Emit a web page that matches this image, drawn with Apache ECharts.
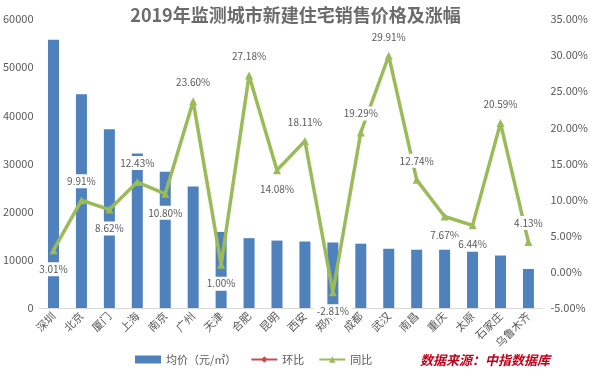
<!DOCTYPE html>
<html><head><meta charset="utf-8">
<script src="https://cdn.jsdelivr.net/npm/echarts@6/dist/echarts.min.js"></script>
<style>html,body{margin:0;padding:0;background:#fff}#c{width:591px;height:376px}</style>
</head><body><div id="c"></div>
<script>
const cities = ['深圳','北京','厦门','上海','南京','广州','天津','合肥','昆明','西安','郑州','成都','武汉','南昌','重庆','太原','石家庄','乌鲁木齐'];
const avgPrice = [55700,44400,37100,32100,28300,25200,15800,14500,14000,13800,13600,13350,12300,12100,12100,11700,10900,8100];
const yoy = [3.01,9.91,8.62,12.43,10.80,23.60,1.00,27.18,14.08,18.11,-2.81,19.29,29.91,12.74,7.67,6.44,20.59,4.13];
const mom = [];
const leftTicks = [0,10000,20000,30000,40000,50000,60000];
const rightTicks = [-5,0,5,10,15,20,25,30,35];

const labelPlace = ['bottom','top','bottom','top','bottom','top','bottom','top','bottom','top','bottom','top','top','top','bottom','bottom','top','top'];

const FONT = '"Noto Sans CJK SC", "Noto Sans", sans-serif';
const chart = echarts.init(document.getElementById('c'));
chart.setOption({
  animation: false,
  textStyle: {fontFamily: FONT},
  title: {text: '2019年监测城市新建住宅销售价格及涨幅', left: 'center', top: 1,
    textStyle: {fontSize: 18, fontWeight: 'bold', color: '#6b6b6b', fontFamily: FONT}},
  grid: {left: 39, right: 45, top: 19, bottom: 68},
  legend: {
    bottom: 6, left: 130, itemWidth: 26, itemHeight: 8, itemGap: 14,
    textStyle: {fontSize: 11, color: '#595959'},
    data: [{name: '均价（元/㎡）', icon: 'rect'}, '环比', '同比']
  },
  graphic: [{type: 'text', left: 420, top: 354,
    style: {text: '数据来源：中指数据库', fill: '#c0001a', font: 'italic bold 13px ' + FONT}}],
  xAxis: {type: 'category', data: cities,
    axisLine: {lineStyle: {color: '#d9d9d9'}}, axisTick: {show: false},
    axisLabel: {rotate: 45, fontSize: 11, color: '#595959', interval: 0, margin: 6}},
  yAxis: [
    {type: 'value', min: leftTicks[0], max: leftTicks[leftTicks.length-1], interval: 10000,
      splitLine: {show: false}, axisLine: {show: false},
      axisLabel: {fontSize: 11, color: '#595959', margin: 6, formatter: v => String(v)}},
    {type: 'value', min: rightTicks[0], max: rightTicks[rightTicks.length-1], interval: 5,
      splitLine: {show: false}, axisLine: {show: false},
      axisLabel: {fontSize: 11, color: '#595959', margin: 8, formatter: v => v.toFixed(2) + '%'}}
  ],
  series: [
    {name: '均价（元/㎡）', type: 'bar', data: avgPrice, barWidth: 11,
      itemStyle: {color: '#4f81bd'}},
    {name: '环比', type: 'line', yAxisIndex: 1, data: mom, symbol: 'diamond', symbolSize: 8,
      itemStyle: {color: '#c0504d'}, lineStyle: {color: '#c0504d', width: 3}},
    {name: '同比', type: 'line', yAxisIndex: 1, symbol: 'triangle', symbolSize: 8,
      itemStyle: {color: '#9bbb59'}, lineStyle: {color: '#9bbb59', width: 3.5},
      data: yoy.map((v, i) => ({value: v, label: {position: labelPlace[i]}})),
      label: {show: true, fontSize: 10, color: '#595959', backgroundColor: '#fff',
        padding: [2, 3], distance: 8, formatter: p => p.value.toFixed(2) + '%'}}
  ]
});
</script></body></html>
